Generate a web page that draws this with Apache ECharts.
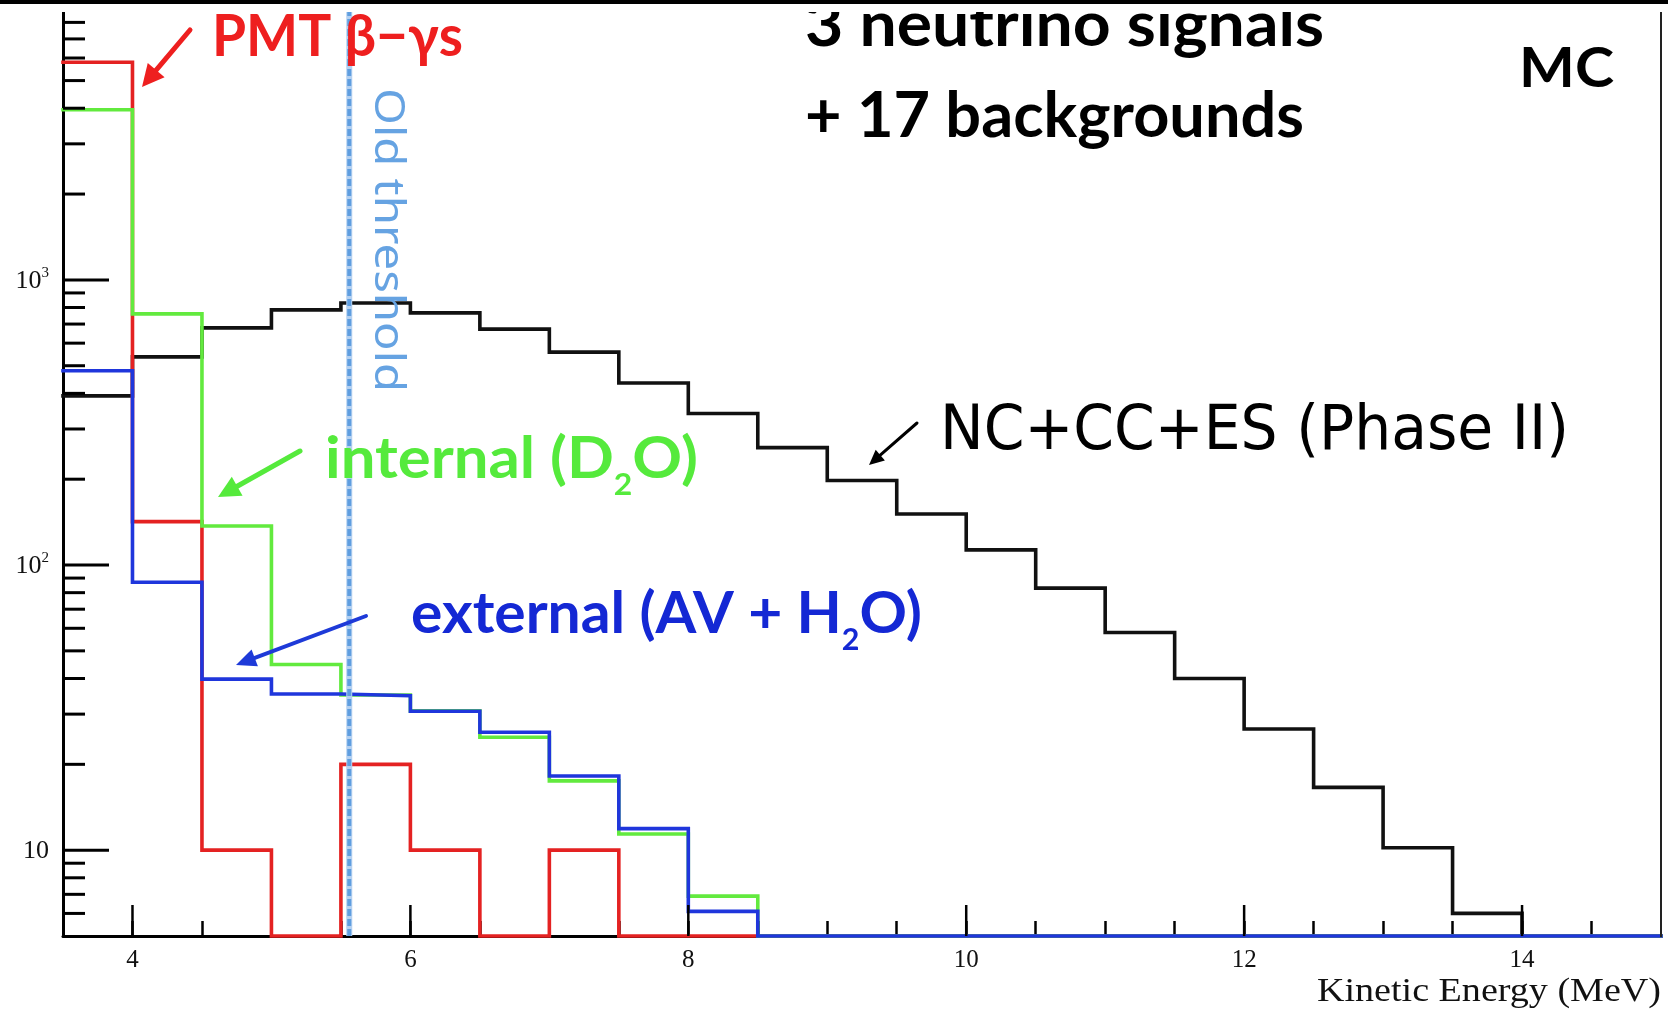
<!DOCTYPE html>
<html>
<head>
<meta charset="utf-8">
<script src="https://cdn.jsdelivr.net/npm/echarts@6/dist/echarts.min.js"></script>
<style>
  html, body { margin: 0; padding: 0; background: #fff; }
  #chart { width: 1668px; height: 1010px; }
</style>
</head>
<body>
<div id="chart"></div>
<script>
// Lower edges of the 0.5 MeV energy bins (MeV)
const binEdges = [3.5, 4, 4.5, 5, 5.5, 6, 6.5, 7, 7.5, 8, 8.5, 9, 9.5, 10, 10.5, 11, 11.5, 12, 12.5, 13, 13.5, 14, 14.5];
const binUpper = 15;

// Counts per bin (0 = empty bin)
const signalCounts   = [392, 537, 679, 785, 830, 766, 672, 558, 435, 340, 258, 198, 151, 113, 83, 58, 40, 26.6, 16.6, 10.2, 6.0, 0, 0];
const pmtCounts      = [5800, 142, 10, 0, 20, 10, 0, 10, 0, 0, 0, 0, 0, 0, 0, 0, 0, 0, 0, 0, 0, 0, 0];
const internalCounts = [3950, 760, 137, 44.8, 35, 30.8, 24.9, 17.5, 11.4, 6.9, 0, 0, 0, 0, 0, 0, 0, 0, 0, 0, 0, 0, 0];
const externalCounts = [480, 87, 39.8, 35.3, 34.8, 30.7, 25.9, 18.2, 11.9, 6.1, 0, 0, 0, 0, 0, 0, 0, 0, 0, 0, 0, 0, 0];

// Axis labels
const xTickLabels = [4, 6, 8, 10, 12, 14];
const yTickValues = [10, 100, 1000];
const yTickExponents = ['', '2', '3'];
const yDecades = [1, 10, 100, 1000];

// Old analysis threshold (MeV)
const oldThreshold = 5.56;

const X_MIN = 3.5, X_MAX = 15;
const Y_MIN = 5, Y_MAX = 8700;

const COLORS = {
  signal: '#111111',
  pmt: '#e42222',
  internal: '#62ea3e',
  external: '#1f36dc',
  threshold: '#5f9ee0',
  thresholdSoft: '#b4d0f0'
};

// Histogram outline: empty bins sit on the bottom of the frame
function histPoints(counts) {
  const pts = binEdges.map((e, i) => [e, counts[i] > 0 ? counts[i] : Y_MIN]);
  const last = counts[counts.length - 1];
  pts.push([binUpper, last > 0 ? last : Y_MIN]);
  return pts;
}

function histSeries(name, counts, color) {
  return {
    name, type: 'line', step: 'end', data: histPoints(counts),
    showSymbol: false, symbol: 'none', clip: false, silent: true,
    lineStyle: { color, width: 3.6, cap: 'square', join: 'miter' },
    z: 2
  };
}

// Minor/major tick positions of the log axis
const yTicks = [];
yDecades.forEach(d => {
  for (let k = 1; k <= 9; k++) {
    const v = d * k;
    if (v > Y_MIN && v < Y_MAX) yTicks.push([X_MIN, v, k === 1 ? 1 : 0]);
  }
});
const xMajorTicks = xTickLabels.map(v => [v, Y_MIN]);

// Text measuring for annotation layout
const mctx = document.createElement('canvas').getContext('2d');
function textWidth(str, font) { mctx.font = font; return mctx.measureText(str).width; }

const BASE_OFF = { 'Lato': 0.387, 'DejaVu Sans': 0.346, 'Liberation Serif': 0.338, 'Noto Sans': 0.388 };

function annotation(o) {
  const fontOf = p => `${o.weight || 'normal'} ${p.size}px "${o.family}"`;
  const widths = o.pieces.map(p => textWidth(p.t, fontOf(p)));
  const total = widths.reduce((a, b) => a + b, 0);
  const sx = (o.right - o.left) / total;
  const off = BASE_OFF[o.family];
  let x = o.left;
  const els = [];
  o.pieces.forEach((p, i) => {
    els.push({
      type: 'text', x, y: o.baseline + (p.shift || 0), scaleX: sx, z: 50, silent: true,
      style: {
        x: 0, y: -off * p.size, text: p.t, font: fontOf(p), fill: o.color,
        textAlign: 'left', textVerticalAlign: 'middle', align: 'left', verticalAlign: 'middle'
      }
    });
    x += widths[i] * sx;
  });
  return els;
}

function arrow(x1, y1, x2, y2, color, w, headLen, headHalf) {
  const dx = x2 - x1, dy = y2 - y1, L = Math.hypot(dx, dy);
  const ux = dx / L, uy = dy / L;
  const bx = x2 - ux * headLen, by = y2 - uy * headLen;
  return [
    { type: 'line', z: 50, silent: true, shape: { x1, y1, x2: bx + ux * 2, y2: by + uy * 2 },
      style: { stroke: color, lineWidth: w, lineCap: 'round' } },
    { type: 'polygon', z: 50, silent: true,
      shape: { points: [[x2, y2], [bx - uy * headHalf, by + ux * headHalf], [bx + uy * headHalf, by - ux * headHalf]] },
      style: { fill: color } }
  ];
}

function rotatedLabel(text, family, size, color, baseX, startY, endY) {
  const font = `normal ${size}px "${family}"`;
  const w = textWidth(text, font);
  return {
    type: 'text', x: baseX, y: startY, rotation: -Math.PI / 2, scaleX: (endY - startY) / w, z: 50, silent: true,
    style: { x: 0, y: -BASE_OFF[family] * size, text, font, fill: color,
      textAlign: 'left', textVerticalAlign: 'middle', align: 'left', verticalAlign: 'middle' }
  };
}

const graphics = [].concat(
  annotation({ pieces: [{ t: 'PMT β−γs', size: 57 }], left: 212, right: 463, baseline: 60,
    color: '#ee1f1f', family: 'Lato', weight: 'bold' }),
  annotation({ pieces: [{ t: '3 neutrino signals', size: 63 }], left: 805, right: 1324, baseline: 50,
    color: '#000', family: 'Lato', weight: 'bold' }),
  annotation({ pieces: [{ t: '+ 17 backgrounds', size: 63 }], left: 805, right: 1304, baseline: 141,
    color: '#000', family: 'Lato', weight: 'bold' }),
  annotation({ pieces: [{ t: 'MC', size: 56 }], left: 1519, right: 1614, baseline: 91,
    color: '#000', family: 'Lato', weight: 'bold' }),
  annotation({ pieces: [{ t: 'internal (D', size: 58 }, { t: '2', size: 30, shift: 15 }, { t: 'O)', size: 58 }],
    left: 325, right: 698, baseline: 482, color: '#55ea3c', family: 'Lato', weight: 'bold' }),
  annotation({ pieces: [{ t: 'external (AV + H', size: 58 }, { t: '2', size: 30, shift: 15 }, { t: 'O)', size: 58 }],
    left: 411, right: 922, baseline: 637, color: '#1428d4', family: 'Lato', weight: 'bold' }),
  annotation({ pieces: [{ t: 'NC+CC+ES (Phase II)', size: 62 }], left: 940, right: 1569, baseline: 454,
    color: '#000', family: 'DejaVu Sans', weight: 'normal' }),
  annotation({ pieces: [{ t: 'Kinetic Energy (MeV)', size: 34 }], left: 1317, right: 1661, baseline: 1004,
    color: '#111', family: 'Liberation Serif', weight: 'normal' }),
  [rotatedLabel('Old threshold', 'Noto Sans', 41, '#66a3e2', 371, 88, 392)],
  arrow(190, 30, 142, 87, '#ee1f1f', 5, 22, 11),
  arrow(300, 451, 218, 497, '#55ea3c', 5, 22, 11),
  arrow(366, 616, 236, 665, '#1e3ad8', 4, 20, 9),
  arrow(917, 423, 869, 465, '#000', 3, 15, 7),
  [
    // right edge of the frame
    { type: 'line', z: 40, silent: true, shape: { x1: 1661, y1: 12, x2: 1661, y2: 937 }, style: { stroke: '#222', lineWidth: 2 } },
    // page edge at the top
    { type: 'rect', z: 90, silent: true, shape: { x: 0, y: 4, width: 1668, height: 8 }, style: { fill: '#fff' } },
    { type: 'rect', z: 91, silent: true, shape: { x: 0, y: 0, width: 1668, height: 4 }, style: { fill: '#000' } }
  ]
);

const chart = echarts.init(document.getElementById('chart'), null, { renderer: 'canvas' });
chart.setOption({
  animation: false,
  backgroundColor: '#fff',
  grid: { left: 63, right: 7, top: 12, bottom: 74, containLabel: false, outerBoundsMode: 'none' },
  xAxis: {
    type: 'value', min: X_MIN, max: X_MAX, interval: 0.5,
    axisLine: { show: true, onZero: false, lineStyle: { color: '#000', width: 3 } },
    axisTick: { show: true, inside: true, length: 15, lineStyle: { color: '#000', width: 2.5 } },
    splitLine: { show: false },
    axisLabel: {
      margin: 12, color: '#111', fontFamily: 'Liberation Serif', fontSize: 25,
      showMinLabel: false, showMaxLabel: false,
      formatter: v => (xTickLabels.indexOf(v) >= 0 ? String(v) : '')
    }
  },
  yAxis: {
    type: 'log', logBase: 10, min: Y_MIN, max: Y_MAX,
    axisLine: { show: true, onZero: false, lineStyle: { color: '#000', width: 3 } },
    axisTick: { show: false },
    splitLine: { show: false },
    axisLabel: {
      margin: 14, color: '#111', showMinLabel: false, showMaxLabel: false,
      formatter: v => {
        const i = yTickValues.findIndex(t => Math.abs(t - v) / t < 1e-6);
        if (i < 0) return '';
        return yTickExponents[i] ? `{b|10}{p|${yTickExponents[i]}}` : '{b|10}';
      },
      rich: {
        b: { fontFamily: 'Liberation Serif', fontSize: 26, lineHeight: 28, verticalAlign: 'bottom', color: '#111' },
        p: { fontFamily: 'Liberation Serif', fontSize: 15, lineHeight: 15, verticalAlign: 'top', color: '#111' }
      }
    }
  },
  series: [
    histSeries('NC+CC+ES', signalCounts, COLORS.signal),
    histSeries('PMT β−γs', pmtCounts, COLORS.pmt),
    histSeries('internal (D2O)', internalCounts, COLORS.internal),
    histSeries('external (AV + H2O)', externalCounts, COLORS.external),
    {
      type: 'line', data: [[oldThreshold, Y_MIN], [oldThreshold, Y_MAX]], showSymbol: false, symbol: 'none',
      clip: false, silent: true, z: 3, lineStyle: { color: COLORS.thresholdSoft, width: 6 }
    },
    {
      type: 'line', data: [[oldThreshold, Y_MIN], [oldThreshold, Y_MAX]], showSymbol: false, symbol: 'none',
      clip: false, silent: true, z: 4, lineStyle: { color: COLORS.threshold, width: 4, type: [7, 3] }
    },
    {
      type: 'custom', data: yTicks, encode: { x: 0, y: 1 }, silent: true, z: 5, clip: false,
      renderItem: (params, api) => {
        const p = api.coord([api.value(0), api.value(1)]);
        const len = api.value(2) ? 46 : 22;
        return { type: 'line', shape: { x1: p[0], y1: p[1], x2: p[0] + len, y2: p[1] }, style: { stroke: '#000', lineWidth: 3 } };
      }
    },
    {
      type: 'custom', data: xMajorTicks, encode: { x: 0, y: 1 }, silent: true, z: 5, clip: false,
      renderItem: (params, api) => {
        const p = api.coord([api.value(0), api.value(1)]);
        return { type: 'line', shape: { x1: p[0], y1: p[1], x2: p[0], y2: p[1] - 31 }, style: { stroke: '#000', lineWidth: 2.5 } };
      }
    }
  ],
  graphic: { elements: graphics }
});
</script>
</body>
</html>
